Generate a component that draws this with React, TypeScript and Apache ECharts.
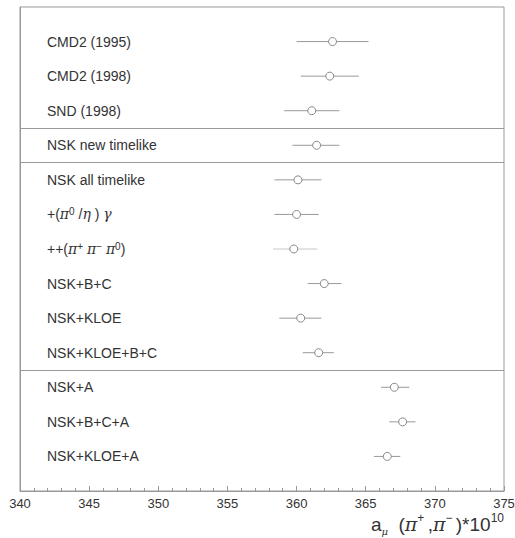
import React, { useEffect, useRef } from "react";
import * as echarts from "echarts";

const LABELS = [
  "CMD2 (1995)",
  "CMD2 (1998)",
  "SND (1998)",
  "NSK new timelike",
  "NSK all timelike",
  "+(π⁰ /η ) γ",
  "++(π⁺ π⁻ π⁰)",
  "NSK+B+C",
  "NSK+KLOE",
  "NSK+KLOE+B+C",
  "NSK+A",
  "NSK+B+C+A",
  "NSK+KLOE+A",
];
const CENTRAL = [362.6, 362.4, 361.1, 361.45, 360.1, 360.0, 359.8, 362.0, 360.3, 361.6, 367.07, 367.67, 366.56];
const LOWER = [360.0, 360.3, 359.1, 359.7, 358.4, 358.4, 358.3, 360.8, 358.75, 360.45, 366.1, 366.7, 365.6];
const UPPER = [365.2, 364.5, 363.1, 363.1, 361.8, 361.6, 361.5, 363.25, 361.8, 362.7, 368.15, 368.6, 367.5];
const GROUP_SIZES = [3, 1, 6, 3];
const FAINT_LABEL = "++(π⁺ π⁻ π⁰)";
const X_MIN = 340;
const X_MAX = 375;
const X_STEP = 5;

const FONT = "'Liberation Sans', Arial, sans-serif";
const GREEK = "'DejaVu Serif', serif";
const TEXT = "#333";
const LINE = "#999";

function toRich(s: string): string {
  return s
    .replace(/([πηγ])/g, "{g|$1}")
    .replace(/⁰/g, "{s|0}")
    .replace(/⁺/g, "{s|+}")
    .replace(/⁻/g, "{s|−}");
}

export default function App() {
  const ref = useRef<HTMLDivElement>(null);
  useEffect(() => {
    document.body.style.margin = "0";
    if (!ref.current) return;
    const chart = echarts.init(ref.current, null, { renderer: "svg" });

    const separators: number[] = [];
    let acc = 0;
    GROUP_SIZES.slice(0, -1).forEach((g) => {
      acc += g;
      separators.push(acc + 0.5);
    });

    const barData = LABELS.map((l, i) => [LOWER[i], UPPER[i], i + 1]);
    const ptData = LABELS.map((l, i) => [CENTRAL[i], i + 1]);

    chart.setOption({
      animation: false,
      grid: {
        left: 20,
        right: 11,
        top: 7,
        bottom: 47,
        show: true,
        borderColor: LINE,
        borderWidth: 1,
        containLabel: false,
        outerBoundsMode: "none",
      },
      xAxis: {
        type: "value",
        position: "bottom",
        min: X_MIN,
        max: X_MAX,
        interval: X_STEP,
        axisLine: { show: true, onZero: false, lineStyle: { color: LINE, width: 1 } },
        axisTick: { show: true, inside: true, length: 5, lineStyle: { color: LINE } },
        minorTick: { show: true, splitNumber: 5, length: 3, lineStyle: { color: LINE } },
        splitLine: { show: false },
        axisLabel: { color: TEXT, fontSize: 13, fontFamily: FONT, margin: 6 },
      },
      yAxis: {
        type: "value",
        min: 0,
        max: LABELS.length + 1,
        interval: 1,
        inverse: true,
        axisLine: { show: true, onZero: false, lineStyle: { color: LINE } },
        axisTick: { show: false },
        splitLine: { show: false },
        axisLabel: {
          inside: true,
          margin: 27,
          color: TEXT,
          fontSize: 14,
          fontFamily: FONT,
          lineHeight: 16,
          formatter: (v: number) => {
            const i = Math.round(v) - 1;
            if (i < 0 || i >= LABELS.length) return "";
            return toRich(LABELS[i]);
          },
          rich: {
            g: { fontStyle: "italic", fontSize: 14, fontFamily: GREEK, color: TEXT, lineHeight: 16 },
            s: { fontSize: 10, color: TEXT, verticalAlign: "top", lineHeight: 10, fontFamily: FONT },
          },
        },
      },
      series: [
        {
          type: "custom",
          data: barData,
          encode: { x: [0, 1], y: 2 },
          renderItem: (params: any, api: any) => {
            const lo = api.coord([api.value(0), api.value(2)]);
            const hi = api.coord([api.value(1), api.value(2)]);
            const faint = LABELS[params.dataIndex] === FAINT_LABEL;
            return {
              type: "line",
              shape: { x1: lo[0], y1: lo[1], x2: hi[0], y2: hi[1] },
              style: { stroke: faint ? "#c8c8c8" : LINE, lineWidth: 1 },
            };
          },
          markLine: {
            silent: true,
            symbol: "none",
            label: { show: false },
            lineStyle: { color: LINE, type: "solid", width: 1 },
            data: separators.map((v) => ({ yAxis: v })),
          },
          z: 2,
        },
        {
          type: "scatter",
          data: ptData,
          symbol: "circle",
          symbolSize: 8,
          itemStyle: { color: "#fff", borderColor: "#888", borderWidth: 1, opacity: 1 },
          z: 3,
        },
      ],
      graphic: [
        {
          type: "text",
          right: 11,
          top: 512,
          style: {
            text: "{m|a}{u|μ}{m|  (}{g|π}{p|+ }{m|,}{g|π}{p|− }{m|)*10}{p|10}",
            fill: TEXT,
            rich: {
              m: { fontSize: 19, fontFamily: FONT, color: TEXT, lineHeight: 24 },
              g: { fontSize: 19, fontFamily: GREEK, fontStyle: "italic", color: TEXT, lineHeight: 24 },
              u: { fontSize: 10, fontFamily: GREEK, fontStyle: "italic", color: TEXT, verticalAlign: "bottom", lineHeight: 16 },
              p: { fontSize: 12, fontFamily: FONT, color: TEXT, verticalAlign: "top", lineHeight: 12 },
            },
          },
        },
      ],
    });
    return () => chart.dispose();
  }, []);
  return <div ref={ref} style={{ width: 515, height: 538 }} />;
}
